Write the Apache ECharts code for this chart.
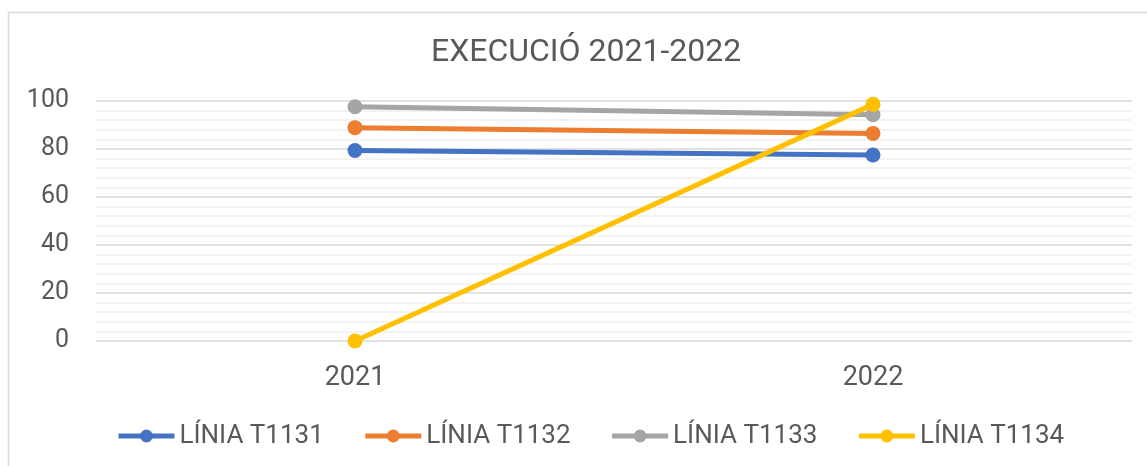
<!DOCTYPE html>
<html>
<head>
<meta charset="utf-8">
<script src="https://cdn.jsdelivr.net/npm/echarts@6/dist/echarts.min.js"></script>
<style>
html,body{margin:0;padding:0;background:#fff;}
#chart{width:1147px;height:466px;}
</style>
</head>
<body>
<div id="chart"></div>
<script>
const titleText = "EXECUCIÓ 2021-2022";
const categories = ["2021", "2022"];
const seriesNames = ["LÍNIA T1131", "LÍNIA T1132", "LÍNIA T1133", "LÍNIA T1134"];
const t1131 = [79.4, 77.5];
const t1132 = [88.9, 86.5];
const t1133 = [97.6, 94.3];
const t1134 = [0, 98.6];
const colors = ["#4472C4", "#ED7D31", "#A5A5A5", "#FFC000"];
const values = [t1131, t1132, t1133, t1134];

const chart = echarts.init(document.getElementById('chart'), null, {renderer: 'canvas'});
const font = 'Roboto';
const txt = '#595959';

chart.setOption({
  animation: false,
  backgroundColor: '#fff',
  graphic: [{
    type: 'rect',
    shape: {x: 8.5, y: 12.5, width: 1200, height: 500},
    style: {fill: 'none', stroke: '#d9d9d9', lineWidth: 1.5},
    silent: true
  }],
  title: {
    text: titleText,
    left: 426,
    top: 32,
    textStyle: {fontFamily: font, fontSize: 32, fontWeight: 'normal', color: txt}
  },
  legend: {
    left: 111,
    top: 418,
    itemWidth: 56,
    itemHeight: 16,
    itemGap: 39,
    lineStyle: {width: 5},
    textStyle: {fontFamily: font, fontSize: 26, color: txt},
    data: seriesNames
  },
  grid: {left: 96, right: 15, top: 101, bottom: 125, containLabel: false},
  xAxis: {
    type: 'category',
    data: categories,
    boundaryGap: true,
    axisLine: {show: false},
    axisTick: {show: false},
    axisLabel: {fontFamily: font, fontSize: 27, color: txt, margin: 24}
  },
  yAxis: {
    type: 'value',
    min: 0, max: 100, interval: 20,
    axisLine: {show: false},
    axisTick: {show: false},
    axisLabel: {fontFamily: font, fontSize: 25, color: txt, margin: 27},
    splitLine: {lineStyle: {color: '#d9d9d9', width: 1.5}},
    minorTick: {show: false, splitNumber: 5},
    minorSplitLine: {show: true, lineStyle: {color: '#efefef', width: 1.5}}
  },
  series: seriesNames.map((n, i) => ({
    name: n,
    type: 'line',
    data: values[i],
    symbol: 'circle',
    symbolSize: 15,
    lineStyle: {width: 5, color: colors[i]},
    itemStyle: {color: colors[i]},
    z: 2 + i
  }))
});
</script>
</body>
</html>
